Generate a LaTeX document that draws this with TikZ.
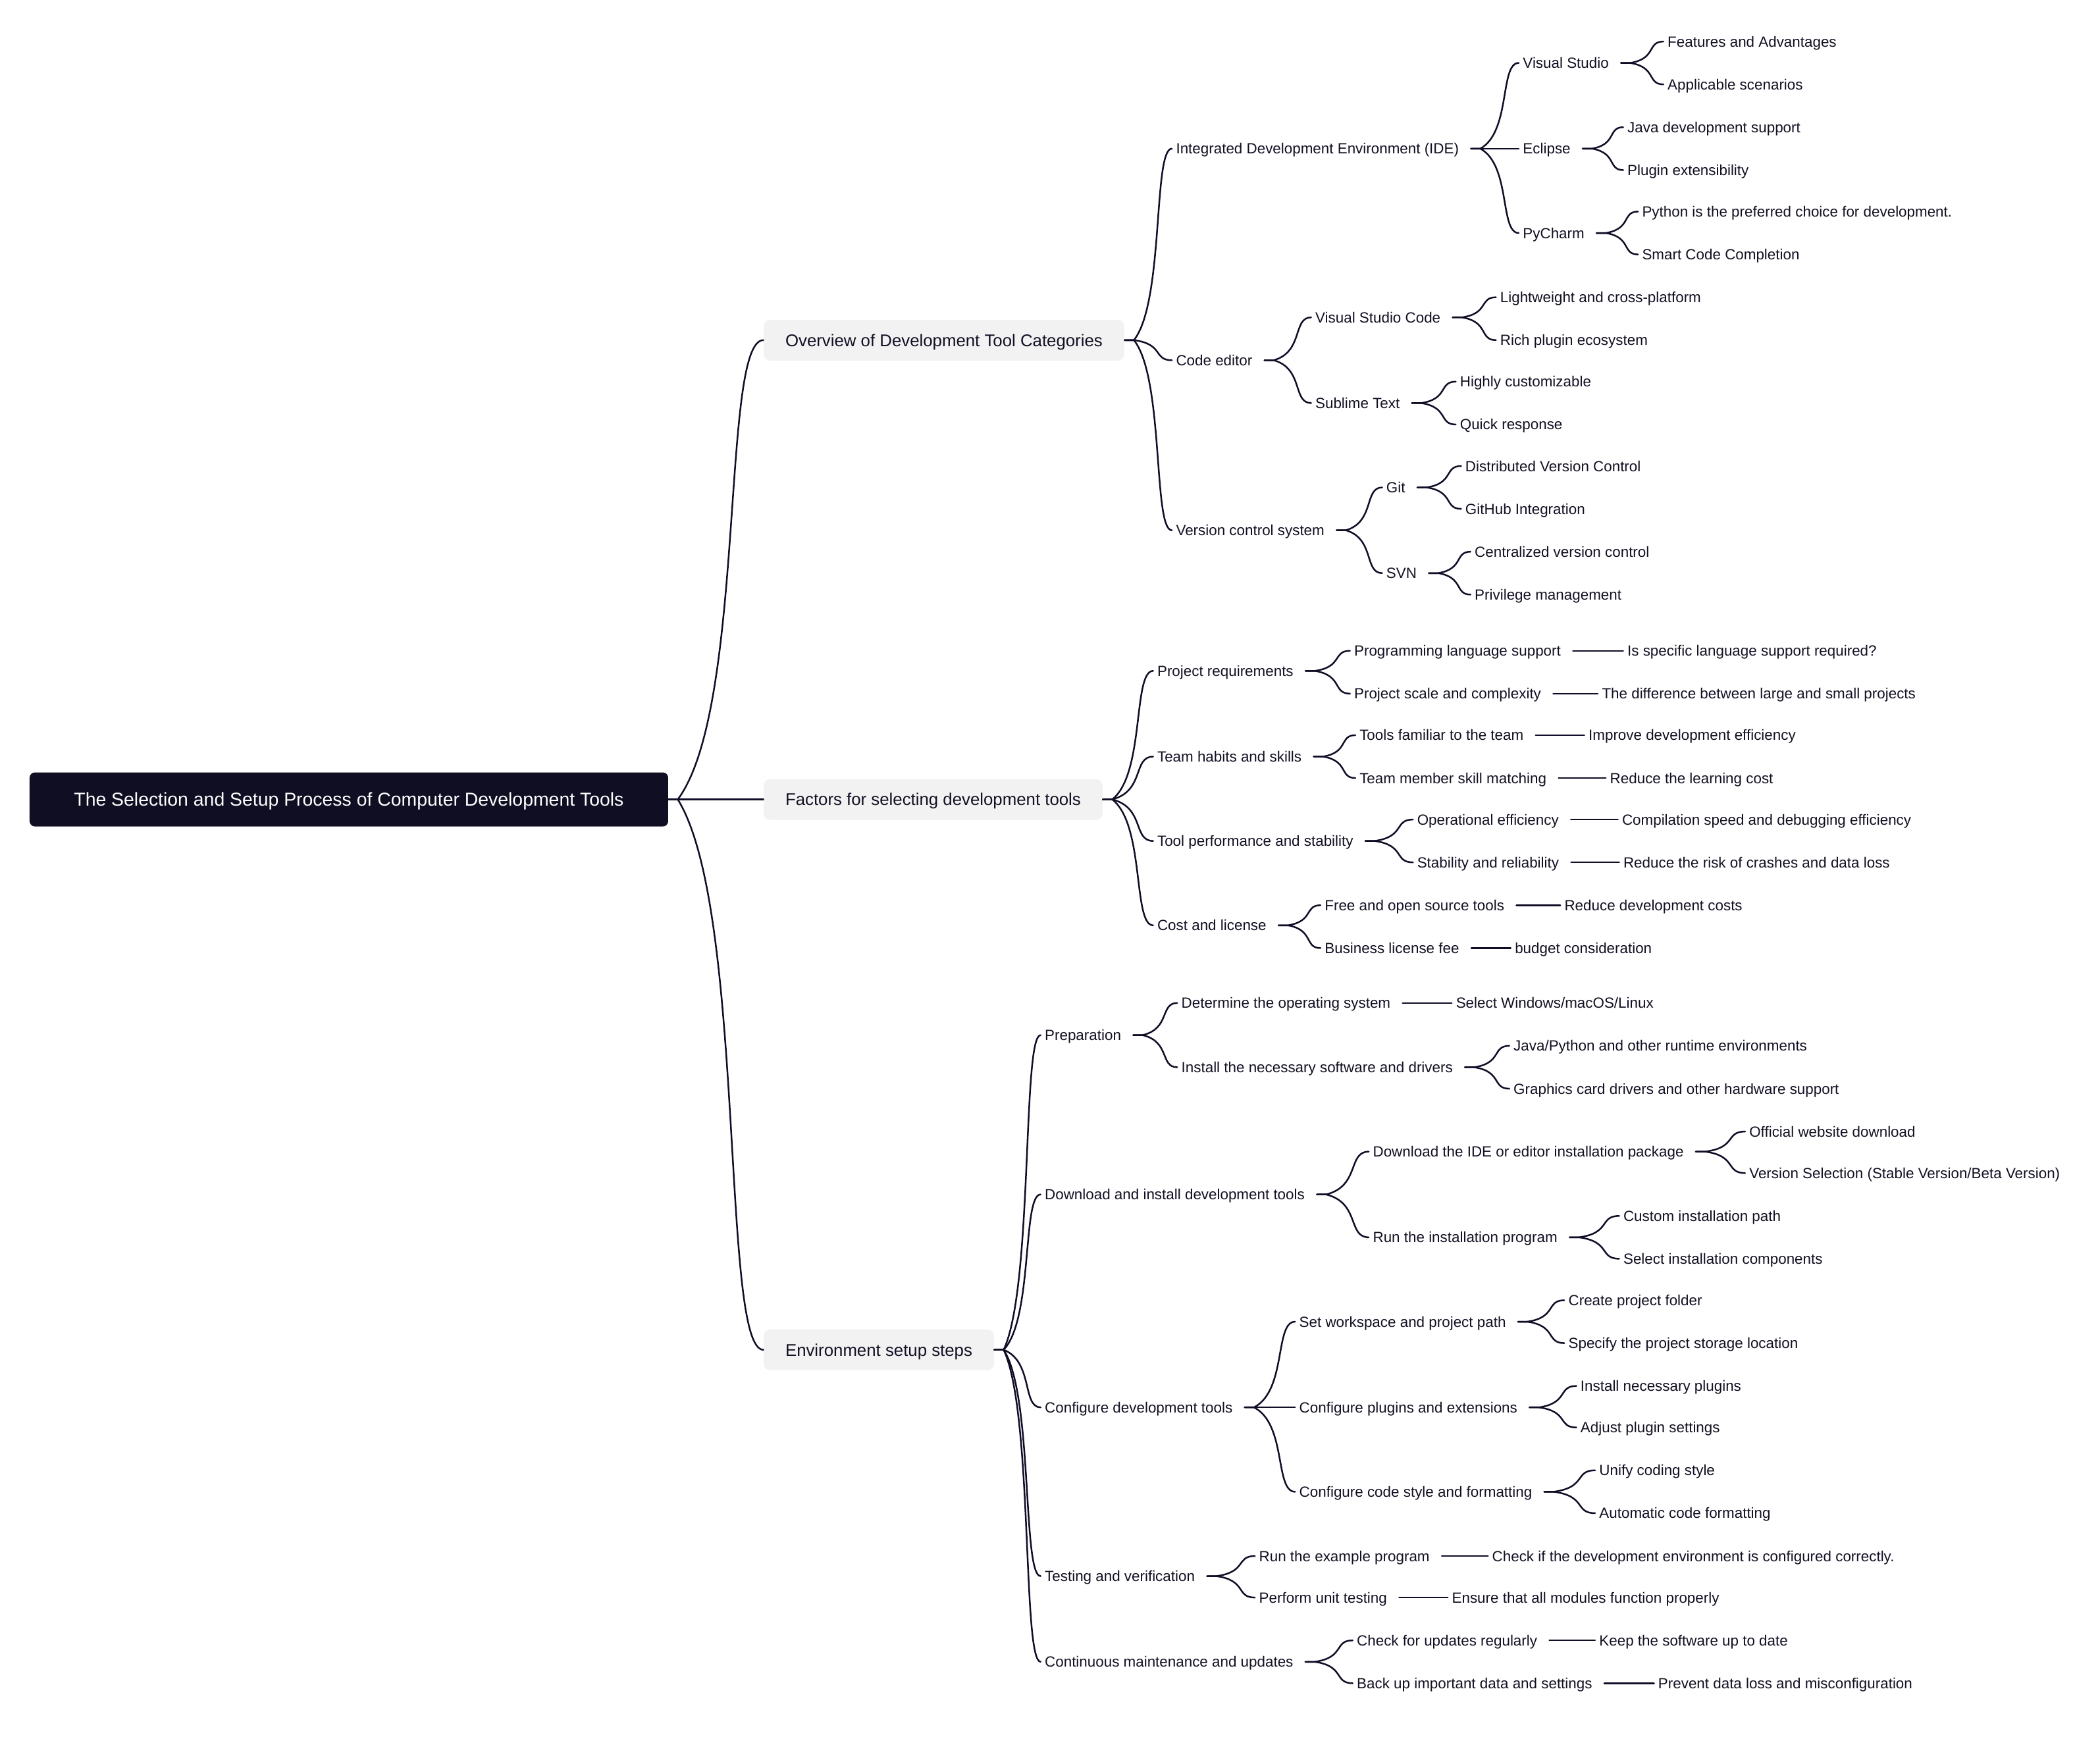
\documentclass[tikz,border=0pt]{standalone}
\usepackage{fontspec}
\setmainfont{Liberation Sans}
\usetikzlibrary{calc}
\definecolor{rootbg}{RGB}{16, 14, 35}
\definecolor{topicbg}{RGB}{242, 242, 243}
\definecolor{inkdark}{RGB}{18, 16, 34}
\definecolor{linedark}{RGB}{16, 14, 38}

\newcommand\branch[3][6pt]{%
  \draw[link] let \p1=([xshift=#1]#2.east), \p2=(#3.west) in
    (\p1) -- ++(7.1pt,0)
    .. controls ({\x1+7.1pt+0.8*(\x2-\x1-7.1pt)},{\y1+0.2*(\y2-\y1)})
    and ({\x1+7.1pt+0.5*(\x2-\x1-7.1pt)},\y2) .. (\p2);}

\begin{document}
\begin{tikzpicture}[
    x=1.0172pt, y=-1.0172pt,
    root/.style={rectangle, fill=rootbg, rounded corners=4pt, text=white, font=\fontsize{14.2pt}{17pt}\selectfont, text height=10.2pt, text depth=0pt, minimum width=485pt, minimum height=41pt, inner sep=0pt},
    topic/.style={rectangle, fill=topicbg, rounded corners=5pt, text=inkdark, font=\fontsize{12.9pt}{15pt}\selectfont, text height=9.3pt, text depth=0pt, inner xsep=16.5pt, minimum height=31pt, anchor=west},
    item/.style={text=inkdark, font=\fontsize{11.2pt}{13.5pt}\selectfont, text height=8pt, text depth=0pt, inner xsep=3pt, inner ysep=2pt, anchor=west},
    link/.style={draw=linedark, line width=1.25pt, line cap=round}
]
    \path[use as bounding box, fill=white] (0,0) rectangle (1568,1297);

    \node[root] (root) at (260.5,597) {The Selection and Setup Process of Computer Development Tools};

    \node[topic] (ov) at (570,254) {Overview of Development Tool Categories};
    \node[topic] (fac) at (570,597) {Factors for selecting development tools};
    \node[topic] (env) at (570,1008) {Environment setup steps};

    \node[item] (ide) at (875,111) {Integrated Development Environment (IDE)};
    \node[item] (ced) at (875,269) {Code editor};
    \node[item] (vcs) at (875,396) {Version control system};

    \node[item] (vs) at (1134,47) {Visual Studio};
    \node[item] (ecl) at (1134,111) {Eclipse};
    \node[item] (pyc) at (1134,174) {PyCharm};
    \node[item] (vsc) at (979,237) {Visual Studio Code};
    \node[item] (sub) at (979,301) {Sublime Text};
    \node[item] (git) at (1032,364) {Git};
    \node[item] (svn) at (1032,428) {SVN};

    \node[item] (vsa) at (1242,31) {Features and Advantages};
    \node[item] (vsb) at (1242,63) {Applicable scenarios};
    \node[item] (ecla) at (1212,95) {Java development support};
    \node[item] (eclb) at (1212,127) {Plugin extensibility};
    \node[item] (pyca) at (1223,158) {Python is the preferred choice for development.};
    \node[item] (pycb) at (1223,190) {Smart Code Completion};
    \node[item] (vsca) at (1117,222) {Lightweight and cross-platform};
    \node[item] (vscb) at (1117,254) {Rich plugin ecosystem};
    \node[item] (suba) at (1087,285) {Highly customizable};
    \node[item] (subb) at (1087,317) {Quick response};
    \node[item] (gita) at (1091,348) {Distributed Version Control};
    \node[item] (gitb) at (1091,380) {GitHub Integration};
    \node[item] (svna) at (1098,412) {Centralized version control};
    \node[item] (svnb) at (1098,444) {Privilege management};

    \node[item] (req) at (861,501) {Project requirements};
    \node[item] (team) at (861,565) {Team habits and skills};
    \node[item] (perf) at (861,628) {Tool performance and stability};
    \node[item] (cost) at (861,691) {Cost and license};

    \node[item] (reqa) at (1008,486) {Programming language support};
    \node[item] (reqb) at (1008,518) {Project scale and complexity};
    \node[item] (teama) at (1012,549) {Tools familiar to the team};
    \node[item] (teamb) at (1012,581) {Team member skill matching};
    \node[item] (perfa) at (1055,612) {Operational efficiency};
    \node[item] (perfb) at (1055,644) {Stability and reliability};
    \node[item] (costa) at (986,676) {Free and open source tools};
    \node[item] (costb) at (986,708) {Business license fee};

    \node[item] (reqa1) at (1212,486) {Is specific language support required?};
    \node[item] (reqb1) at (1193,518) {The difference between large and small projects};
    \node[item] (teama1) at (1183,549) {Improve development efficiency};
    \node[item] (teamb1) at (1199,581) {Reduce the learning cost};
    \node[item] (perfa1) at (1208,612) {Compilation speed and debugging efficiency};
    \node[item] (perfb1) at (1209,644) {Reduce the risk of crashes and data loss};
    \node[item] (costa1) at (1165,676) {Reduce development costs};
    \node[item] (costb1) at (1128,708) {budget consideration};

    \node[item] (prep) at (777,773) {Preparation};
    \node[item] (inst) at (777,892) {Download and install development tools};
    \node[item] (conf) at (777,1051) {Configure development tools};
    \node[item] (test) at (777,1177) {Testing and verification};
    \node[item] (maint) at (777,1241) {Continuous maintenance and updates};

    \node[item] (os) at (879,749) {Determine the operating system};
    \node[item] (drv) at (879,797) {Install the necessary software and drivers};
    \node[item] (dl) at (1022,860) {Download the IDE or editor installation package};
    \node[item] (run) at (1022,924) {Run the installation program};
    \node[item] (ws) at (967,987) {Set workspace and project path};
    \node[item] (plug) at (967,1051) {Configure plugins and extensions};
    \node[item] (style) at (967,1114) {Configure code style and formatting};
    \node[item] (ex) at (937,1162) {Run the example program};
    \node[item] (unit) at (937,1193) {Perform unit testing};
    \node[item] (upd) at (1010,1225) {Check for updates regularly};
    \node[item] (bak) at (1010,1257) {Back up important data and settings};

    \node[item] (os1) at (1084,749) {Select Windows/macOS/Linux};
    \node[item] (drva) at (1127,781) {Java/Python and other runtime environments};
    \node[item] (drvb) at (1127,813) {Graphics card drivers and other hardware support};
    \node[item] (dla) at (1303,845) {Official website download};
    \node[item] (dlb) at (1303,876) {Version Selection (Stable Version/Beta Version)};
    \node[item] (runa) at (1209,908) {Custom installation path};
    \node[item] (runb) at (1209,940) {Select installation components};
    \node[item] (wsa) at (1168,971) {Create project folder};
    \node[item] (wsb) at (1168,1003) {Specify the project storage location};
    \node[item] (pluga) at (1177,1035) {Install necessary plugins};
    \node[item] (plugb) at (1177,1066) {Adjust plugin settings};
    \node[item] (stylea) at (1191,1098) {Unify coding style};
    \node[item] (styleb) at (1191,1130) {Automatic code formatting};
    \node[item] (ex1) at (1111,1162) {Check if the development environment is configured correctly.};
    \node[item] (unit1) at (1081,1193) {Ensure that all modules function properly};
    \node[item] (upd1) at (1191,1225) {Keep the software up to date};
    \node[item] (bak1) at (1235,1257) {Prevent data loss and misconfiguration};

    \branch[0pt]{root}{ov}
    \branch[0pt]{root}{fac}
    \branch[0pt]{root}{env}

    \branch[0pt]{ov}{ide}
    \branch[0pt]{ov}{ced}
    \branch[0pt]{ov}{vcs}
    \branch{ide}{vs}
    \branch{ide}{ecl}
    \branch{ide}{pyc}
    \branch{ced}{vsc}
    \branch{ced}{sub}
    \branch{vcs}{git}
    \branch{vcs}{svn}
    \branch{vs}{vsa}
    \branch{vs}{vsb}
    \branch{ecl}{ecla}
    \branch{ecl}{eclb}
    \branch{pyc}{pyca}
    \branch{pyc}{pycb}
    \branch{vsc}{vsca}
    \branch{vsc}{vscb}
    \branch{sub}{suba}
    \branch{sub}{subb}
    \branch{git}{gita}
    \branch{git}{gitb}
    \branch{svn}{svna}
    \branch{svn}{svnb}

    \branch[0pt]{fac}{req}
    \branch[0pt]{fac}{team}
    \branch[0pt]{fac}{perf}
    \branch[0pt]{fac}{cost}
    \branch{req}{reqa}
    \branch{req}{reqb}
    \branch{team}{teama}
    \branch{team}{teamb}
    \branch{perf}{perfa}
    \branch{perf}{perfb}
    \branch{cost}{costa}
    \branch{cost}{costb}
    \branch{reqa}{reqa1}
    \branch{reqb}{reqb1}
    \branch{teama}{teama1}
    \branch{teamb}{teamb1}
    \branch{perfa}{perfa1}
    \branch{perfb}{perfb1}
    \branch{costa}{costa1}
    \branch{costb}{costb1}

    \branch[0pt]{env}{prep}
    \branch[0pt]{env}{inst}
    \branch[0pt]{env}{conf}
    \branch[0pt]{env}{test}
    \branch[0pt]{env}{maint}
    \branch{prep}{os}
    \branch{prep}{drv}
    \branch{inst}{dl}
    \branch{inst}{run}
    \branch{conf}{ws}
    \branch{conf}{plug}
    \branch{conf}{style}
    \branch{test}{ex}
    \branch{test}{unit}
    \branch{maint}{upd}
    \branch{maint}{bak}
    \branch{os}{os1}
    \branch{drv}{drva}
    \branch{drv}{drvb}
    \branch{dl}{dla}
    \branch{dl}{dlb}
    \branch{run}{runa}
    \branch{run}{runb}
    \branch{ws}{wsa}
    \branch{ws}{wsb}
    \branch{plug}{pluga}
    \branch{plug}{plugb}
    \branch{style}{stylea}
    \branch{style}{styleb}
    \branch{ex}{ex1}
    \branch{unit}{unit1}
    \branch{upd}{upd1}
    \branch{bak}{bak1}
\end{tikzpicture}
\end{document}
